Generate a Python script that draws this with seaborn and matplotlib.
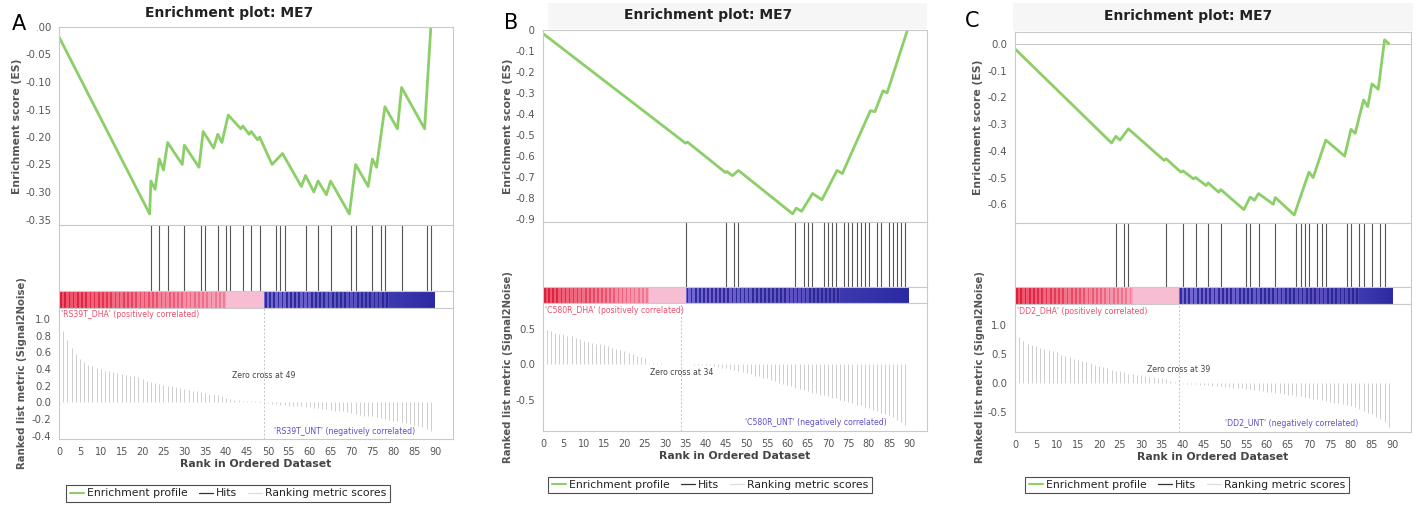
import numpy as np
import matplotlib
matplotlib.use("Agg")
import matplotlib.pyplot as plt
from matplotlib.colors import to_rgb
from matplotlib.patches import Rectangle
from matplotlib.lines import Line2D
import seaborn as sns

sns.set_style("white")
plt.rcParams['font.family'] = ['DejaVu Sans']
plt.rcParams['axes.unicode_minus'] = False

W, H = 1417, 508

# ---------------- data ----------------
ranks = list(range(90))

# Panel A
A_title = "Enrichment plot: ME7"
A_pos_label = "'RS39T_DHA' (positively correlated)"
A_neg_label = "'RS39T_UNT' (negatively correlated)"
A_zero = 49
A_hits = [22, 24, 26, 30, 34, 35, 38, 40, 41, 44, 46, 48, 52, 53, 54, 59, 62, 65,
          70, 71, 75, 77, 78, 82, 88, 89]
A_es_x = [0, 21.7, 22, 23, 24, 25, 26, 29.5, 30, 33.5, 34.5, 37, 38, 39, 40.5, 43.5,
          44, 45.5, 46, 47.5, 48, 51, 53.5, 58, 59, 61, 62, 64, 65, 69.5, 71, 74, 75,
          76, 78, 81, 82, 87.5, 89]
A_es_y = [-0.018, -0.34, -0.28, -0.295, -0.24, -0.26, -0.21, -0.25, -0.215, -0.255,
          -0.19, -0.22, -0.195, -0.21, -0.16, -0.185, -0.18, -0.195, -0.19, -0.205,
          -0.20, -0.25, -0.23, -0.29, -0.27, -0.30, -0.28, -0.305, -0.28, -0.34,
          -0.25, -0.29, -0.24, -0.255, -0.145, -0.185, -0.11, -0.185, 0.0]
A_metric = [0.93, 0.85, 0.75, 0.65, 0.58, 0.52, 0.48, 0.45, 0.43, 0.41,
            0.40, 0.38, 0.37, 0.36, 0.35, 0.34, 0.33, 0.32, 0.31, 0.30,
            0.28, 0.26, 0.24, 0.23, 0.22, 0.21, 0.20, 0.19, 0.18, 0.17,
            0.16, 0.15, 0.14, 0.13, 0.12, 0.11, 0.10, 0.10, 0.09, 0.08,
            0.05, 0.04, 0.03, 0.03, 0.02, 0.02, 0.02, 0.01, 0.01,
            -0.005, -0.01, -0.02, -0.02, -0.03, -0.03, -0.04, -0.04, -0.05, -0.05,
            -0.06, -0.06, -0.07, -0.07, -0.08, -0.08, -0.09, -0.10, -0.10, -0.11,
            -0.12, -0.13, -0.14, -0.15, -0.16, -0.16, -0.17, -0.18, -0.19, -0.20,
            -0.21, -0.22, -0.23, -0.24, -0.25, -0.26, -0.27, -0.28, -0.30, -0.32, -0.35]
A_es_ticks = [0.0, -0.05, -0.10, -0.15, -0.20, -0.25, -0.30, -0.35]
A_met_ticks = [1.0, 0.8, 0.6, 0.4, 0.2, 0.0, -0.2, -0.4]
A_bands = [40, 49, 79]

# Panel B
B_title = "Enrichment plot: ME7"
B_pos_label = "'C580R_DHA' (positively correlated)"
B_neg_label = "'C580R_UNT' (negatively correlated)"
B_zero = 34
B_hits = [35, 45, 47, 48, 62, 64, 65, 66, 69, 70, 71, 72, 74, 75, 76, 77, 78, 79, 80,
          82, 83, 85, 86, 87, 88, 89]
B_es_x = [0, 35, 35.5, 44.8, 45.2, 46.5, 48, 61.3, 62.2, 63.5, 66.2, 68.5, 72.2, 73.5,
          80.4, 81.5, 83.5, 84.5, 89.5]
B_es_y = [-0.017, -0.54, -0.535, -0.68, -0.675, -0.695, -0.67, -0.877, -0.85, -0.865,
          -0.78, -0.81, -0.67, -0.685, -0.385, -0.39, -0.29, -0.30, 0.0]
B_metric = [0.50, 0.48, 0.46, 0.44, 0.43, 0.42, 0.40, 0.39, 0.37, 0.35,
            0.33, 0.31, 0.30, 0.29, 0.28, 0.27, 0.25, 0.23, 0.21, 0.20,
            0.18, 0.16, 0.14, 0.12, 0.10, 0.08, 0.02, 0.015, 0.012, 0.01,
            0.008, 0.006, 0.004, 0.002, 0.001,
            -0.002, -0.004, -0.006, -0.008, -0.01, -0.012, -0.015, -0.02, -0.04, -0.05,
            -0.06, -0.07, -0.08, -0.10, -0.11, -0.13, -0.14, -0.16, -0.17, -0.19,
            -0.20, -0.22, -0.24, -0.26, -0.28, -0.30, -0.31, -0.33, -0.35, -0.37,
            -0.38, -0.40, -0.41, -0.43, -0.44, -0.45, -0.47, -0.48, -0.50, -0.52,
            -0.53, -0.55, -0.57, -0.58, -0.60, -0.62, -0.64, -0.66, -0.68, -0.70,
            -0.72, -0.75, -0.78, -0.81, -0.86]
B_es_ticks = [0.0, -0.1, -0.2, -0.3, -0.4, -0.5, -0.6, -0.7, -0.8, -0.9]
B_met_ticks = [0.5, 0.0, -0.5]
B_bands = [26, 35, 73]

# Panel C
C_title = "Enrichment plot: ME7"
C_pos_label = "'DD2_DHA' (positively correlated)"
C_neg_label = "'DD2_UNT' (negatively correlated)"
C_zero = 39
C_hits = [24, 26, 27, 36, 40, 43, 46, 49, 55, 56, 58, 62, 67, 68, 69, 70, 72, 73, 74,
          79, 80, 82, 83, 85, 87, 88]
C_es_x = [0, 23, 24, 25, 27, 35.5, 36, 39.5, 40, 42.5, 43, 45.5, 46, 48.5, 49, 54.5,
          56, 57, 58, 61.5, 62, 66.5, 70, 71, 74, 78.5, 80, 81, 83, 84, 85, 86.5, 88, 89]
C_es_y = [-0.019, -0.371, -0.346, -0.36, -0.318, -0.436, -0.43, -0.48, -0.475, -0.505,
          -0.50, -0.53, -0.52, -0.555, -0.545, -0.62, -0.573, -0.585, -0.56, -0.60,
          -0.575, -0.64, -0.48, -0.50, -0.36, -0.42, -0.32, -0.335, -0.21, -0.235,
          -0.15, -0.17, 0.015, 0.0]
C_metric = [0.97, 0.80, 0.72, 0.67, 0.65, 0.63, 0.61, 0.59, 0.57, 0.55,
            0.54, 0.48, 0.46, 0.44, 0.42, 0.40, 0.38, 0.36, 0.34, 0.31,
            0.29, 0.27, 0.25, 0.23, 0.21, 0.20, 0.18, 0.16, 0.15, 0.14,
            0.13, 0.12, 0.11, 0.10, 0.09, 0.08, 0.06, 0.04, 0.02,
            -0.005, -0.01, -0.015, -0.02, -0.025, -0.03, -0.035, -0.04, -0.05, -0.055,
            -0.06, -0.07, -0.075, -0.08, -0.085, -0.09, -0.10, -0.11, -0.12, -0.13,
            -0.14, -0.15, -0.16, -0.17, -0.18, -0.19, -0.20, -0.21, -0.22, -0.23,
            -0.25, -0.26, -0.27, -0.28, -0.30, -0.31, -0.32, -0.34, -0.35, -0.37,
            -0.38, -0.40, -0.42, -0.45, -0.48, -0.51, -0.54, -0.58, -0.62, -0.68, -0.76]
C_es_ticks = [0.0, -0.1, -0.2, -0.3, -0.4, -0.5, -0.6]
C_met_ticks = [1.0, 0.5, 0.0, -0.5]
C_bands = [28, 39, 82]

# --------------- layout (pixel geometry, style only) ---------------
panels = [
    dict(letter="A", title=A_title, pos=A_pos_label, neg=A_neg_label, zero=A_zero,
         hits=A_hits, esx=A_es_x, esy=A_es_y, metric=A_metric, esticks=A_es_ticks,
         esfmt="%.2f", metticks=A_met_ticks, bands=A_bands,
         px=(59, 453), py=(27, 225, 291, 308, 439), esylim=(-0.36, 0.0),
         metylim=(-0.44, 1.13), zc_y=0.32, pos_y=0.954, neg_xy=(85.2, 0.06),
         letter_xy=(19, 24), title_x=229, title_y=13, ylab_x=(17, 22),
         legend_xy=(228, 493.5), band=None),
    dict(letter="B", title=B_title, pos=B_pos_label, neg=B_neg_label, zero=B_zero,
         hits=B_hits, esx=B_es_x, esy=B_es_y, metric=B_metric, esticks=B_es_ticks,
         esfmt="%.1f", metticks=B_met_ticks, bands=B_bands,
         px=(543, 927), py=(30, 222, 287, 303, 431), esylim=(-0.916, 0.0),
         metylim=(-0.94, 0.86), zc_y=-0.12, pos_y=0.945, neg_xy=(84.4, 0.07),
         letter_xy=(511, 23), title_x=708, title_y=15, ylab_x=(508, 508),
         legend_xy=(710, 485), band=(548, 927, 3, 29)),
    dict(letter="C", title=C_title, pos=C_pos_label, neg=C_neg_label, zero=C_zero,
         hits=C_hits, esx=C_es_x, esy=C_es_y, metric=C_metric, esticks=C_es_ticks,
         esfmt="%.1f", metticks=C_met_ticks, bands=C_bands,
         px=(1015, 1411), py=(32, 223, 287, 304, 432), esylim=(-0.67, 0.044),
         metylim=(-0.845, 1.36), zc_y=0.24, pos_y=0.945, neg_xy=(81.7, 0.07),
         letter_xy=(972, 21), title_x=1188, title_y=16, ylab_x=(978, 980),
         legend_xy=(1187, 485), band=(1013, 1413, 3, 31)),
]

GREEN = "#8ccf68"
GREY_SP = "#c9c9c9"
TXT = "#555555"

fig = plt.figure(figsize=(W / 100, H / 100), dpi=100)


def fx(x):
    return x / W


def fy(y):
    return 1 - y / H


def blend(c1, c2, t):
    a, b = np.array(to_rgb(c1)), np.array(to_rgb(c2))
    return tuple((1 - t) * a + t * b)


def style_axes(ax):
    for s in ax.spines.values():
        s.set_color(GREY_SP)
        s.set_linewidth(0.8)
    ax.tick_params(colors="#888888", labelcolor=TXT, length=2, width=0.6)


for p in panels:
    x0, x1 = p["px"]
    ytop, yes, ybar, ybarb, ybot = p["py"]
    xlim = (0, 94.3)
    left, width = fx(x0), fx(x1 - x0)

    if p["band"] is not None:
        bx0, bx1, by0, by1 = p["band"]
        fig.add_artist(Rectangle((fx(bx0), fy(by1)), fx(bx1 - bx0), (by1 - by0) / H,
                                 transform=fig.transFigure, facecolor="#f6f6f6",
                                 edgecolor="none", zorder=-1))

    ax_es = fig.add_axes([left, fy(yes), width, (yes - ytop) / H])
    ax_hit = fig.add_axes([left, fy(ybar), width, (ybar - yes) / H])
    ax_bar = fig.add_axes([left, fy(ybarb), width, (ybarb - ybar) / H])
    ax_met = fig.add_axes([left, fy(ybot), width, (ybot - ybarb) / H])

    # Enrichment profile
    sns.lineplot(x=p["esx"], y=p["esy"], ax=ax_es, color=GREEN, lw=2.0,
                 estimator=None, sort=False, legend=False)
    ax_es.axhline(0, color="#bbbbbb", lw=0.6, zorder=0)
    ax_es.set_xlim(*xlim)
    ax_es.set_ylim(*p["esylim"])
    ax_es.set_yticks(p["esticks"])
    ax_es.set_yticklabels([p["esfmt"] % v for v in p["esticks"]], fontsize=7.3)
    ax_es.set_xticks([])
    style_axes(ax_es)

    # Hits
    ax_hit.vlines(p["hits"], 0, 1, color="#555555", lw=0.8)
    ax_hit.set_xlim(*xlim)
    ax_hit.set_ylim(0, 1)
    ax_hit.set_xticks([])
    ax_hit.set_yticks([])
    style_axes(ax_hit)

    # Colour bar
    b1, b2, b3 = p["bands"]
    n = len(p["metric"])
    bg, st = [], []
    for r in range(n):
        if r < b1:
            t = r / b1
            bg.append(blend("#ef5068", "#f6a4ba", t))
            st.append(blend("#d81c3a", "#f07e98", t))
        elif r < b2:
            bg.append("#f6bdd3")
            st.append("#f6bdd3")
        elif r < b3:
            t = (r - b2) / (b3 - b2)
            bg.append(blend("#7468d4", "#4e46ba", t))
            st.append(blend("#302c98", "#2a2890", t))
        else:
            t = (r - b3) / max(1, n - b3)
            c = blend("#3c38b0", "#2a28a0", t)
            bg.append(c)
            st.append(c)
    ax_bar.bar(ranks, 1, width=1.0, align="edge", color=bg, linewidth=0)
    ax_bar.bar(np.array(ranks) + 0.3, 1, width=0.4, align="edge", color=st, linewidth=0)
    ax_bar.set_xlim(*xlim)
    ax_bar.set_ylim(0, 1)
    ax_bar.set_xticks([])
    ax_bar.set_yticks([])
    style_axes(ax_bar)

    # Ranked list metric
    ax_met.vlines(ranks, 0, p["metric"], color="#cfcfcf", lw=0.7)
    ax_met.axvline(p["zero"], color="#c4c4c4", lw=0.7, ls=(0, (2, 2)))
    ax_met.set_xlim(*xlim)
    ax_met.set_ylim(*p["metylim"])
    ax_met.set_yticks(p["metticks"])
    ax_met.set_yticklabels(["%.1f" % v for v in p["metticks"]], fontsize=7.3)
    ax_met.set_xticks(range(0, 91, 5))
    ax_met.set_xticklabels([str(v) for v in range(0, 91, 5)], fontsize=7)
    style_axes(ax_met)
    ax_met.text(p["zero"], p["zc_y"], "Zero cross at %d" % p["zero"], ha="center",
                va="center", fontsize=5.6, color="#444444")
    ax_met.text(0.5, p["pos_y"], p["pos"], transform=ax_met.get_xaxis_transform(),
                ha="left", va="center", fontsize=5.6, color="#e8506c")
    ax_met.text(p["neg_xy"][0], p["neg_xy"][1], p["neg"],
                transform=ax_met.get_xaxis_transform(), ha="right", va="center",
                fontsize=5.6, color="#5a50c8")
    ax_met.set_xlabel("Rank in Ordered Dataset", fontsize=7.8, fontweight="bold",
                      color="#444444", labelpad=2)

    # Titles and labels
    fig.text(fx(p["title_x"]), fy(p["title_y"]), p["title"], ha="center", va="center",
             fontsize=10, fontweight="bold", color="#222222")
    fig.text(fx(p["ylab_x"][0]), fy((ytop + yes) / 2), "Enrichment score (ES)",
             rotation=90, ha="center", va="center", fontsize=7.8, fontweight="bold",
             color=TXT)
    fig.text(fx(p["ylab_x"][1]), fy((ybar + ybot) / 2 + 8),
             "Ranked list metric (Signal2Noise)", rotation=90, ha="center",
             va="center", fontsize=7.3, fontweight="semibold", color=TXT)

    # Letter with a white patch behind it
    lx, ly = p["letter_xy"]
    fig.add_artist(Rectangle((fx(lx - 12), fy(ly + 12)), fx(30), 24 / H,
                             transform=fig.transFigure, facecolor="white",
                             edgecolor="none", zorder=5))
    fig.text(fx(lx), fy(ly), p["letter"], ha="center", va="center", fontsize=15,
             color="black", zorder=6)

    # Legend
    handles = [Line2D([], [], color=GREEN, lw=1.5),
               Line2D([], [], color="#333333", lw=0.9),
               Line2D([], [], color="#dddddd", lw=0.9)]
    labels = ["Enrichment profile", "Hits", "Ranking metric scores"]
    lg = fig.legend(handles, labels, loc="center",
                    bbox_to_anchor=(fx(p["legend_xy"][0]), fy(p["legend_xy"][1])),
                    ncol=3, frameon=True, fancybox=False, fontsize=7.8,
                    handlelength=1.3, handletextpad=0.3, columnspacing=1.0,
                    borderpad=0.3, labelcolor="#222222")
    lg.get_frame().set_edgecolor("#222222")
    lg.get_frame().set_linewidth(0.8)

fig.savefig("out.png", dpi=100)
